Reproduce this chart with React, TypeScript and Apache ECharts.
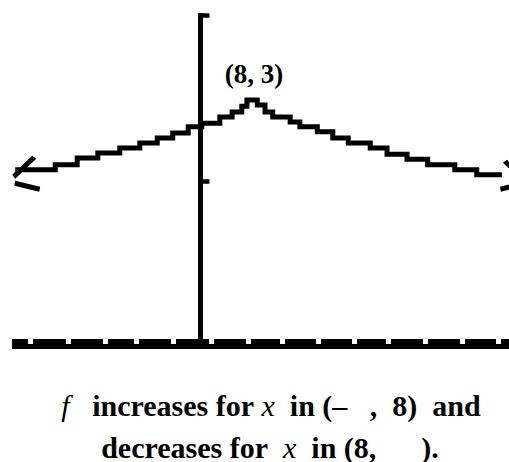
import React, { useEffect, useRef } from "react";
import * as echarts from "echarts";

// Viewing window of the graph
const X_MIN = -29.2;
const X_MAX = 47.8;
const Y_MIN = -36.2;
const Y_MAX = 17;

// Tick positions along the two axes
const X_TICKS = [-26.4, -20.5, -14.8, -9.9, -4.2, 1.7, 7.4, 12.6, 18.2, 23.9, 29.1, 34.8, 40.5, 46.1];
const Y_TICKS = [16.6, -10];

// Stepped (pixelated) trace of f, rising to the cusp at (8, 3) and falling after it
const TRACE_X = [
  -28.7, -22.5, -19.1, -15.9, -12.5, -9.4, -6.7, -4.3, -1.9, 0.2, 3.0, 4.9, 6.4, 7.2, 8,
  8.8, 10.0, 11.2, 13.9, 15.4, 18.1, 20.5, 22.9, 26.3, 28.9, 32.0, 35.2, 39.4, 42.8, 46.7,
];
const TRACE_Y = [
  -8.2, -7.4, -6.3, -5.5, -4.7, -3.9, -3.1, -2.3, -1.3, -0.7, 0.3, 1.1, 2.0, 3, 3,
  2.2, 1.1, 0.3, -0.5, -1.3, -2.1, -3.1, -3.9, -4.7, -5.7, -6.5, -7.4, -8.2, -9.0, -9.0,
];

const PEAK = [8, 3];
const PEAK_LABEL = "(8, 3)";

const CAPTION_1 = "{i|f}   {b|increases for} {i|x}  {b|in (–   ,  8)  and}";
const CAPTION_2 = "{b|decreases for}  {i|x}  {b|in (8,      ).}";

const LEFT_ARROW = "path://M0 19 L20 0 L24 3 L3 23 Z M3 25 L28 31 L27 36 L2 30 Z";
const RIGHT_ARROW = "path://M7 0 L28 19 L25 23 L3 3 Z M0 27 L24 21 L25 26 L1 32 Z";

const SERIF = "'Liberation Serif', 'DejaVu Serif', serif";

export default function App() {
  const ref = useRef<HTMLDivElement>(null);

  useEffect(() => {
    if (!ref.current) return;
    const chart = echarts.init(ref.current, undefined, { renderer: "svg" });
    const last = TRACE_X.length - 1;

    const data = TRACE_X.map((x, i) => {
      const item: any = { value: [x, TRACE_Y[i]] };
      if (i === 0) {
        item.symbol = LEFT_ARROW;
        item.symbolSize = [28, 36];
        item.symbolOffset = [11, 4];
      } else if (i === last) {
        item.symbol = RIGHT_ARROW;
        item.symbolSize = [28, 32];
        item.symbolOffset = [12, 1];
      } else if (x === PEAK[0] && TRACE_Y[i] === PEAK[1]) {
        item.symbol = "circle";
        item.symbolSize = 1;
        item.label = {
          show: true,
          position: "top",
          distance: 12,
          offset: [2, 0],
          formatter: PEAK_LABEL,
          color: "#000",
          fontFamily: SERIF,
          fontWeight: "bold",
          fontSize: 27,
        };
      }
      return item;
    });

    const richStyles = {
      i: { fontFamily: SERIF, fontSize: 30, fontStyle: "italic", fontWeight: "normal", fill: "#000" },
      b: { fontFamily: SERIF, fontSize: 30, fontWeight: "bold", fill: "#000" },
    };

    chart.setOption({
      animation: false,
      backgroundColor: "#fff",
      grid: { left: 12, right: 0, top: 13, bottom: 118 },
      xAxis: {
        type: "value",
        min: X_MIN,
        max: X_MAX,
        axisLine: { show: true, onZero: false, lineStyle: { color: "#000", width: 10, cap: "butt" } },
        axisTick: {
          show: true,
          inside: true,
          customValues: X_TICKS,
          length: 5,
          lineStyle: { color: "#fff", width: 5 },
        },
        axisLabel: { show: false },
        splitLine: { show: false },
      },
      yAxis: {
        type: "value",
        min: Y_MIN,
        max: Y_MAX,
        axisLine: { show: true, onZero: true, lineStyle: { color: "#000", width: 5, cap: "butt" } },
        axisTick: {
          show: true,
          inside: true,
          customValues: Y_TICKS,
          length: 9,
          lineStyle: { color: "#000", width: 4.5 },
        },
        axisLabel: { show: false },
        splitLine: { show: false },
      },
      series: [
        {
          type: "line",
          step: "end",
          data,
          symbol: "none",
          showSymbol: true,
          itemStyle: { color: "#000" },
          lineStyle: { color: "#000", width: 5, cap: "butt", join: "miter" },
          clip: false,
          z: 3,
        },
      ],
      graphic: [
        {
          type: "text",
          x: 271,
          y: 405,
          style: {
            text: CAPTION_1,
            rich: richStyles,
            align: "center",
            verticalAlign: "middle",
            fontFamily: SERIF,
            fontSize: 30,
            fill: "#000",
          },
        },
        {
          type: "text",
          x: 270,
          y: 447,
          style: {
            text: CAPTION_2,
            rich: richStyles,
            align: "center",
            verticalAlign: "middle",
            fontFamily: SERIF,
            fontSize: 30,
            fill: "#000",
          },
        },
      ],
    });

    return () => chart.dispose();
  }, []);

  return (
    <div
      ref={ref}
      style={{ position: "absolute", left: 0, top: 0, width: 509, height: 462, background: "#fff" }}
    />
  );
}
